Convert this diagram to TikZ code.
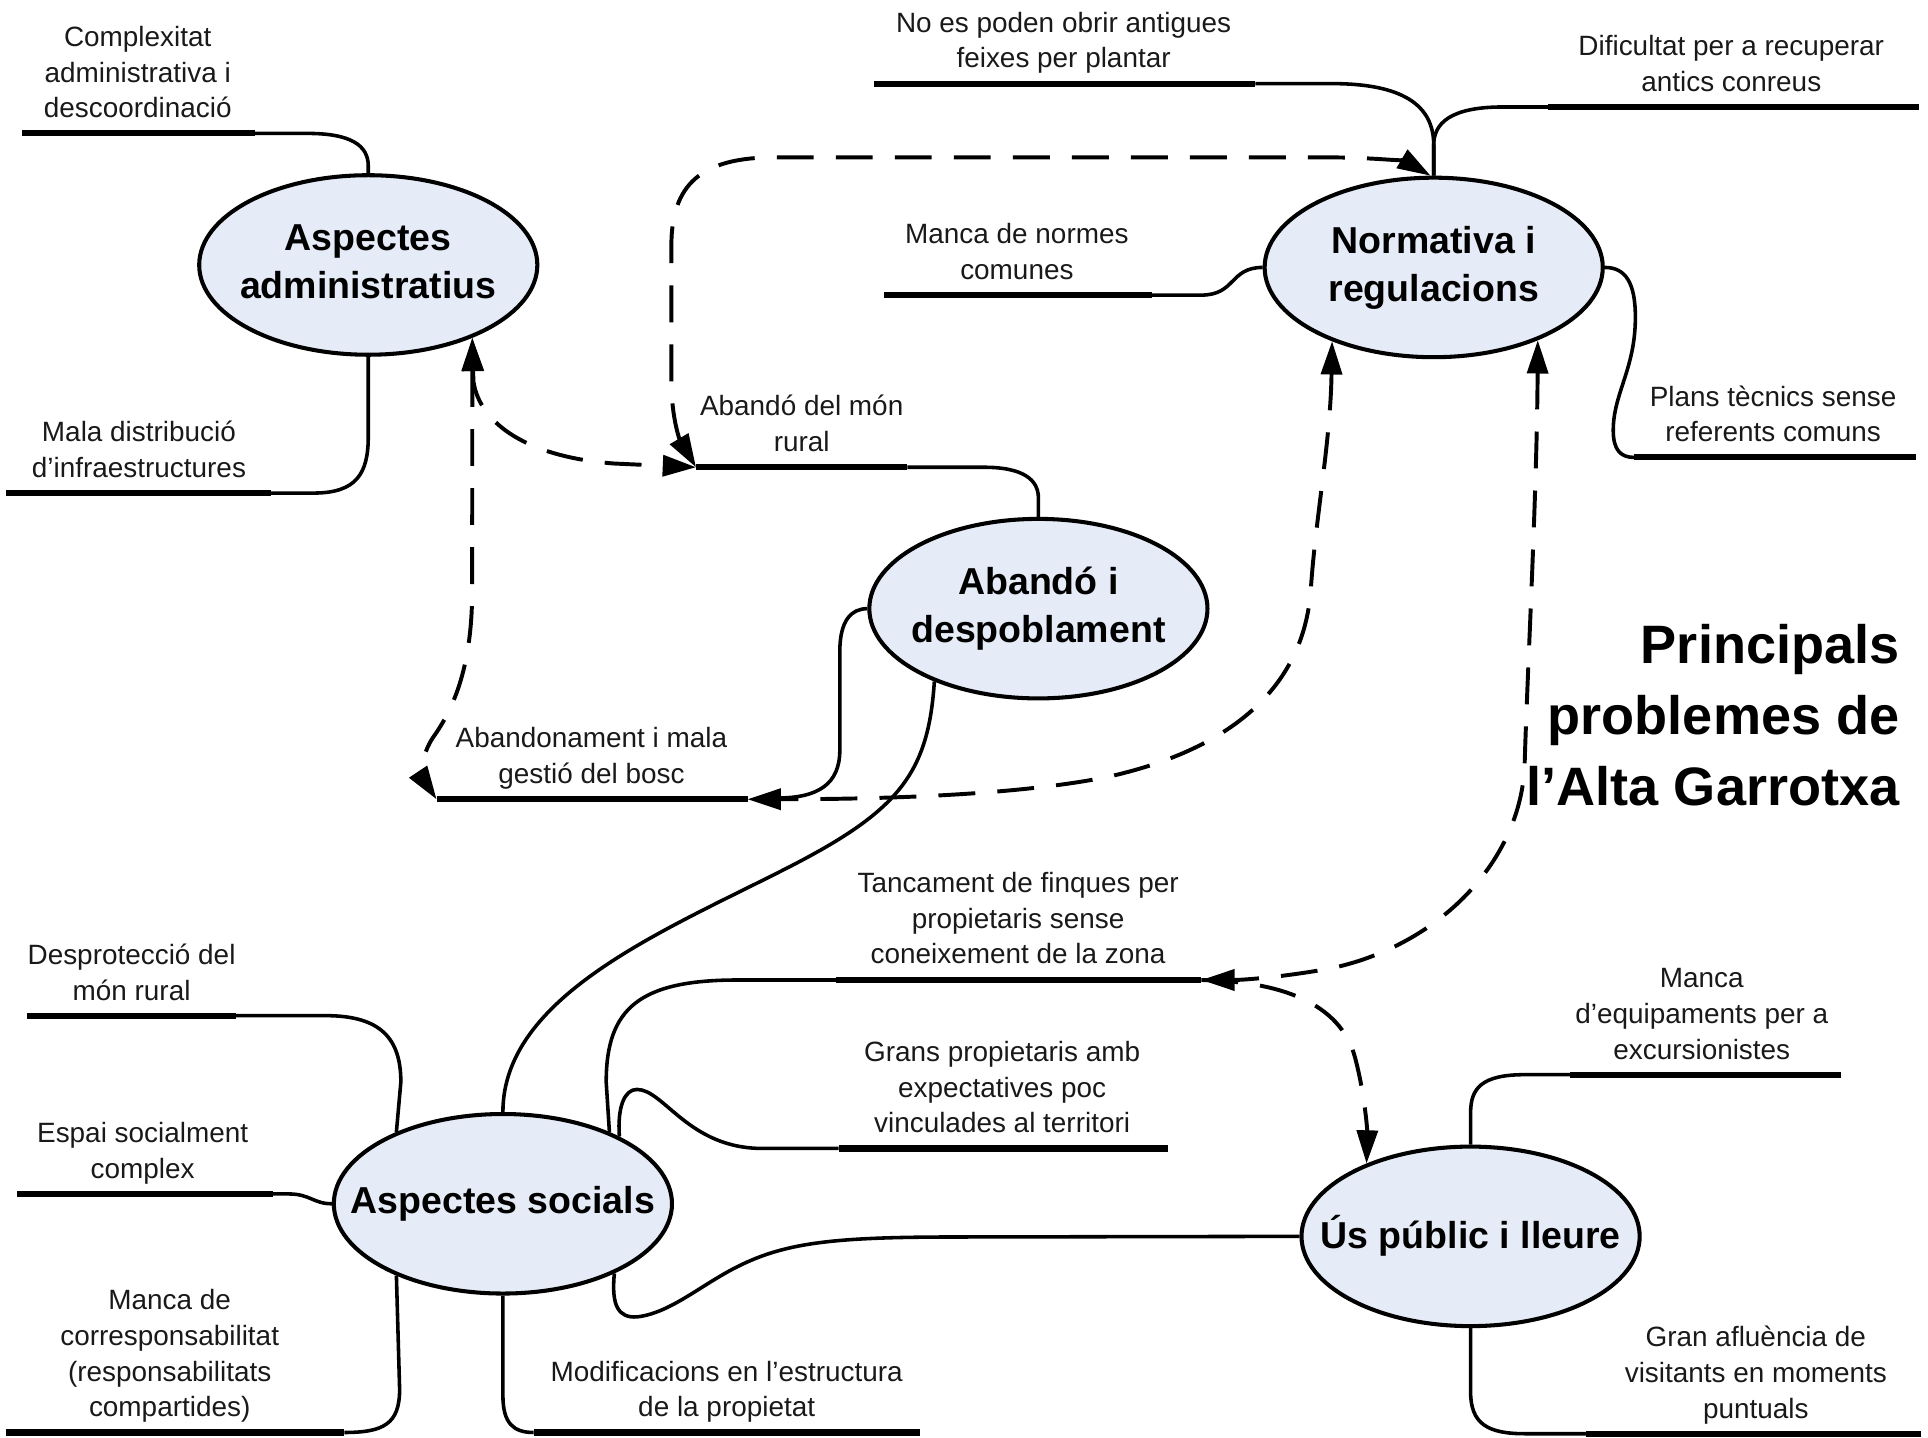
\documentclass[tikz,border=0pt]{standalone}
\usepackage{fontspec}
\setmainfont{Liberation Sans}
\usetikzlibrary{arrows.meta,shapes.geometric}
\definecolor{ellfill}{RGB}{230,236,247}
\newcommand{\leafdp}{\rule[-5pt]{0pt}{5pt}}
\newcommand{\bubbleht}{\rule{0pt}{23pt}}
\newcommand{\bubbledp}{\rule[-7pt]{0pt}{7pt}}
\begin{document}
\begin{tikzpicture}[x=1pt,y=-1pt,
  bubble/.style={ellipse, draw=black, line width=3.3pt, fill=ellfill, minimum width=275pt, minimum height=146pt, inner sep=0pt},
  btext/.style={font=\fontsize{30.5}{39}\selectfont\bfseries, align=center, inner sep=0pt},
  leaf/.style={font=\fontsize{22.7}{29}\selectfont, align=center, inner sep=0pt, anchor=south, text=black!90},
  under/.style={line width=5pt},
  conn/.style={line width=2.9pt},
  rel/.style={line width=3.2pt, dash pattern=on 30pt off 18pt, {Triangle[length=27pt,width=17pt]}-{Triangle[length=27pt,width=17pt]}},
  relone/.style={line width=3.2pt, dash pattern=on 30pt off 18pt, -{Triangle[length=27pt,width=17pt]}}
]
\path[use as bounding box] (0,0) rectangle (1568,1169);

% ---------- ellipses ----------
\node[bubble] (A) at (299.5,215.5) {};
\node[btext] (At) at (A.center) {\bubbleht Aspectes\\administratius\bubbledp};
\node[bubble] (N) at (1166,217.5) {};
\node[btext] (Nt) at (N.center) {\bubbleht Normativa i\\regulacions\bubbledp};
\node[bubble] (D) at (844.5,495) {};
\node[btext] (Dt) at (D.center) {\bubbleht Abandó i\\despoblament\bubbledp};
\node[bubble] (S) at (409,979) {};
\node[btext] (St) at (S.center) {\bubbleht Aspectes socials\bubbledp};
\node[bubble] (U) at (1196,1005.5) {};
\node[btext] (Ut) at (U.center) {\bubbleht Ús públic i lleure\bubbledp};

% ---------- title ----------
\node[font=\fontsize{44}{58}\selectfont\bfseries, align=right, anchor=south east, inner sep=0pt] (title) at (1545,656) {Principals\\problemes de\\l’Alta Garrotxa};

% ---------- leaf texts ----------
\node[leaf] (a1t) at (112,101) {Complexitat\\administrativa i\\descoordinació\leafdp};
\node[leaf] (a2t) at (113,393.5) {Mala distribució\\d’infraestructures\leafdp};
\node[leaf] (n1t) at (865,60.5) {No es poden obrir antigues\\feixes per plantar\leafdp};
\node[leaf] (n2t) at (1408,79.5) {Dificultat per a recuperar\\antics conreus\leafdp};
\node[leaf] (n3t) at (827,232.5) {Manca de normes\\comunes\leafdp};
\node[leaf] (n4t) at (1442,364.5) {Plans tècnics sense\\referents comuns\leafdp};
\node[leaf] (d1t) at (652,372.5) {Abandó del món\\rural\leafdp};
\node[leaf] (d2t) at (481,642.5) {Abandonament i mala\\gestió del bosc\leafdp};
\node[leaf] (s1t) at (107,818.5) {Desprotecció del\\món rural\leafdp};
\node[leaf] (s2t) at (116,963.5) {Espai socialment\\complex\leafdp};
\node[leaf] (s3t) at (138,1157.5) {Manca de\\corresponsabilitat\\(responsabilitats\\compartides)\leafdp};
\node[leaf] (s4t) at (591,1157.5) {Modificacions en l’estructura\\de la propietat\leafdp};
\node[leaf] (s5t) at (828,789) {Tancament de finques per\\propietaris sense\\coneixement de la zona\leafdp};
\node[leaf] (s6t) at (815,926.5) {Grans propietaris amb\\expectatives poc\\vinculades al territori\leafdp};
\node[leaf] (u1t) at (1384,866.5) {Manca\\d’equipaments per a\\excursionistes\leafdp};
\node[leaf] (u2t) at (1428,1158.5) {Gran afluència de\\visitants en moments\\puntuals\leafdp};

% ---------- underline end points ----------
\coordinate (a1L) at (18,108.5);   \coordinate (a1R) at (207,108.5);
\coordinate (a2L) at (5,401);      \coordinate (a2R) at (220,401);
\coordinate (n1L) at (711,68);     \coordinate (n1R) at (1021,68);
\coordinate (n2L) at (1259,87);    \coordinate (n2R) at (1561,87);
\coordinate (n3L) at (719,240);    \coordinate (n3R) at (937,240);
\coordinate (n4L) at (1329,372);   \coordinate (n4R) at (1558,372);
\coordinate (d1L) at (566,380);    \coordinate (d1R) at (738,380);
\coordinate (d2L) at (355,650);    \coordinate (d2R) at (608,650);
\coordinate (d2J) at (632,649);
\coordinate (s1L) at (22,826);     \coordinate (s1R) at (192,826);
\coordinate (s2L) at (14,971);     \coordinate (s2R) at (222,971);
\coordinate (s3L) at (5,1165);     \coordinate (s3R) at (280,1165);
\coordinate (s4L) at (434,1165);   \coordinate (s4R) at (748,1165);
\coordinate (s5L) at (680,797);    \coordinate (s5R) at (977,797);
\coordinate (s6L) at (682,934);    \coordinate (s6R) at (950,934);
\coordinate (u1L) at (1277,874);   \coordinate (u1R) at (1497,874);
\coordinate (u2L) at (1290,1166);  \coordinate (u2R) at (1562,1166);

% ---------- thick underlines ----------
\foreach \p in {a1,a2,n1,n2,n3,n4,d1,d2,s1,s2,s3,s4,s5,s6,u1,u2}
  \draw[under] (\p L) -- (\p R);

% ---------- thin connectors ----------
\draw[conn] (a1R) -- (250,108.5) .. controls (285,108.5) and (299.5,118) .. (299.5,135) -- (A.north);
\draw[conn] (A.south) -- (299.5,355) .. controls (299.5,385) and (290,401) .. (255,401) -- (a2R);
\draw[conn] (n1R) -- (1083,68) .. controls (1140,68) and (1166,85) .. (1166,118) -- (N.north);
\draw[conn] (n2L) -- (1222,87) .. controls (1180,87) and (1166,100) .. (1166,118) -- (N.north);
\draw[conn] (n3R) -- (977,240) .. controls (1005,240) and (1000,217.5) .. (N.west);
\draw[conn] (N.east) .. controls (1322,217.5) and (1330,230) .. (1330,258) .. controls (1330,300) and (1312,320) .. (1312,350) .. controls (1312,366) and (1318,372) .. (n4L);
\draw[conn] (d1R) -- (800,380) .. controls (832,380) and (844.5,390) .. (844.5,405) -- (D.north);
\draw[conn] (D.west) .. controls (692,495) and (683,505) .. (683,530) -- (683,610) .. controls (683,638) and (665,649) .. (d2J);
\draw[conn] (D.215) .. controls (755,630) and (730,660) .. (640,706) .. controls (540,757) and (409,810) .. (S.north);
\draw[conn] (s1R) -- (265,826) .. controls (310,826) and (326,845) .. (326,880) -- (S.146);
\draw[conn] (s2R) -- (235,971) .. controls (252,971) and (255,979) .. (S.west);
\draw[conn] (S.214) -- (325,1130) .. controls (325,1158) and (312,1165) .. (s3R);
\draw[conn] (S.south) -- (409,1135) .. controls (409,1158) and (418,1165) .. (s4L);
\draw[conn] (S.34) -- (493,880) .. controls (493,820) and (520,797) .. (600,797) -- (s5L);
\draw[conn] (S.30) .. controls (502,900) and (508,886) .. (518,886) .. controls (540,886) and (560,934) .. (620,934) -- (s6L);
\draw[conn] (S.328) .. controls (497,1062) and (503,1072) .. (518,1071) .. controls (545,1068) and (570,1045) .. (600,1030) .. controls (640,1010) and (680,1006) .. (780,1006) -- (U.west);
\draw[conn] (u1L) -- (1240,874) .. controls (1205,874) and (1196,885) .. (1196,905) -- (U.north);
\draw[conn] (U.south) -- (1196,1132) .. controls (1196,1158) and (1210,1166) .. (1240,1166) -- (u2L);

% ---------- dashed relations ----------
\draw[rel] (d1L) .. controls (553,358) and (546,340) .. (546,310) -- (546,200) .. controls (546,150) and (570,128) .. (630,128) -- (1080,128) .. controls (1120,128) and (1145,132) .. (N.92);
\draw[rel] (A.325) -- (385,310) .. controls (390,345) and (430,372) .. (500,377) -- (d1L);
\draw[rel] (A.325) -- (384,480) .. controls (384,540) and (370,575) .. (352,600) .. controls (342,615) and (343,632) .. (d2L);
\draw[rel] (N.216) .. controls (1082,360) and (1070,420) .. (1066,480) .. controls (1060,560) and (1000,610) .. (900,632) .. controls (820,648) and (700,650) .. (d2R);
\draw[rel] (N.325) .. controls (1250,400) and (1242,550) .. (1240,620) .. controls (1238,700) and (1170,770) .. (1080,788) .. controls (1040,795) and (1010,797) .. (s5R);
\draw[relone] (s5R) .. controls (1040,798) and (1090,815) .. (1102,860) .. controls (1110,890) and (1112,920) .. (U.145);
\end{tikzpicture}
\end{document}
